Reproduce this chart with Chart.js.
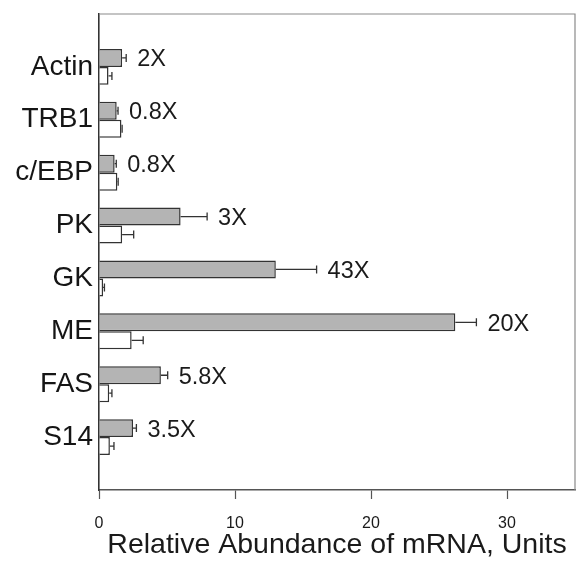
<!DOCTYPE html>
<html>
<head>
<meta charset="utf-8">
<title>Relative Abundance of mRNA</title>
<script src="https://cdn.jsdelivr.net/npm/chart.js@4/dist/chart.umd.min.js"></script>
<style>
  html, body { margin: 0; padding: 0; background: #ffffff; }
  canvas { display: block; }
</style>
</head>
<body>
<canvas id="chart" width="576" height="573"></canvas>
<script>
// mRNA species, top to bottom
const genes = ['Actin', 'TRB1', 'c/EBP', 'PK', 'GK', 'ME', 'FAS', 'S14'];
// Shaded bars and their error (units)
const shadedValues = [1.7, 1.3, 1.15, 6.0, 13.0, 26.2, 4.55, 2.5];
const shadedErrors = [0.3, 0.1, 0.12, 1.95, 3.0, 1.55, 0.5, 0.25];
// Open bars and their error (units)
const openValues = [0.7, 1.65, 1.35, 1.7, 0.3, 2.4, 0.75, 0.8];
const openErrors = [0.25, 0.05, 0.06, 0.85, 0.1, 0.85, 0.2, 0.3];
// Fold change printed beside each shaded bar
const foldLabels = ['2X', '0.8X', '0.8X', '3X', '43X', '20X', '5.8X', '3.5X'];
// X axis ticks
const xTicks = [0, 10, 20, 30];

const FONT = "'Liberation Sans', Arial, Helvetica, sans-serif";
Chart.defaults.font.family = FONT;

// Blank slots above and below the gene rows
const rowLabels = [''].concat(genes, ['']);
const pad = arr => [null].concat(arr, [null]);

// Error whiskers (upper side only) and fold-change text
const errorBars = {
  id: 'errorBars',
  afterDatasetsDraw(chart) {
    const ctx = chart.ctx;
    const xs = chart.scales.x;
    const errs = [shadedErrors, openErrors];
    const vals = [shadedValues, openValues];
    ctx.save();
    for (let d = 0; d < 2; d++) {
      const meta = chart.getDatasetMeta(d);
      meta.data.forEach((bar, k) => {
        const i = k - 1;
        if (i < 0 || i >= genes.length) return;
        const x0 = xs.getPixelForValue(vals[d][i]);
        const x1 = xs.getPixelForValue(vals[d][i] + errs[d][i]);
        const y = bar.y;
        ctx.strokeStyle = '#333';
        ctx.lineWidth = 1.3;
        ctx.beginPath();
        ctx.moveTo(x0, y);
        ctx.lineTo(x1, y);
        ctx.moveTo(x1, y - 4);
        ctx.lineTo(x1, y + 4);
        ctx.stroke();
        if (d === 0) {
          ctx.fillStyle = '#1a1a1a';
          ctx.font = '23.5px ' + FONT;
          ctx.textAlign = 'left';
          ctx.textBaseline = 'middle';
          ctx.fillText(foldLabels[i], x1 + 11, y + 2);
        }
      });
    }
    ctx.restore();
  }
};

// Thin frame on top and right of the plot area
const frame = {
  id: 'frame',
  beforeDatasetsDraw(chart) {
    const { ctx, chartArea: a } = chart;
    ctx.save();
    ctx.strokeStyle = '#8a8a8a';
    ctx.lineWidth = 1.2;
    ctx.beginPath();
    ctx.moveTo(a.left, a.top);
    ctx.lineTo(a.right, a.top);
    ctx.lineTo(a.right, a.bottom);
    ctx.stroke();
    ctx.restore();
  }
};

new Chart(document.getElementById('chart'), {
  type: 'bar',
  data: {
    labels: rowLabels,
    datasets: [
      {
        label: 'Shaded',
        data: pad(shadedValues),
        backgroundColor: '#b4b4b4',
        borderColor: '#333333',
        borderWidth: 1.5,
        borderSkipped: 'start',
        categoryPercentage: 0.68,
        barPercentage: 1.0
      },
      {
        label: 'Open',
        data: pad(openValues),
        backgroundColor: '#ffffff',
        borderColor: '#333333',
        borderWidth: 1.5,
        borderSkipped: 'start',
        categoryPercentage: 0.68,
        barPercentage: 1.0
      }
    ]
  },
  options: {
    indexAxis: 'y',
    responsive: false,
    animation: false,
    layout: { padding: { top: 14, right: 1, left: 0, bottom: 0 } },
    plugins: {
      legend: { display: false },
      tooltip: { enabled: false }
    },
    scales: {
      x: {
        type: 'linear',
        min: 0,
        max: 35,
        afterBuildTicks(scale) {
          scale.ticks = xTicks.map(v => ({ value: v }));
        },
        afterFit(scale) { scale.height = 83; },
        ticks: {
          color: '#1a1a1a',
          font: { size: 16 },
          padding: 15
        },
        grid: {
          drawOnChartArea: false,
          drawTicks: true,
          tickLength: 9,
          tickColor: '#555',
          tickWidth: 1.2
        },
        border: { display: true, color: '#555', width: 1.5 },
        title: {
          display: true,
          text: 'Relative Abundance of mRNA, Units',
          color: '#1a1a1a',
          font: { size: 28.5 },
          padding: { top: 0, bottom: 11 }
        }
      },
      y: {
        type: 'category',
        offset: false,
        afterFit(scale) {
          scale.width = 99;
          scale.paddingTop = 0;
          scale.paddingBottom = 0;
        },
        ticks: {
          autoSkip: false,
          color: '#151515',
          font: { size: 28 },
          padding: 6
        },
        grid: { display: false, drawTicks: false },
        border: { display: true, color: '#333', width: 1.6 }
      }
    }
  },
  plugins: [frame, errorBars]
});
</script>
</body>
</html>
